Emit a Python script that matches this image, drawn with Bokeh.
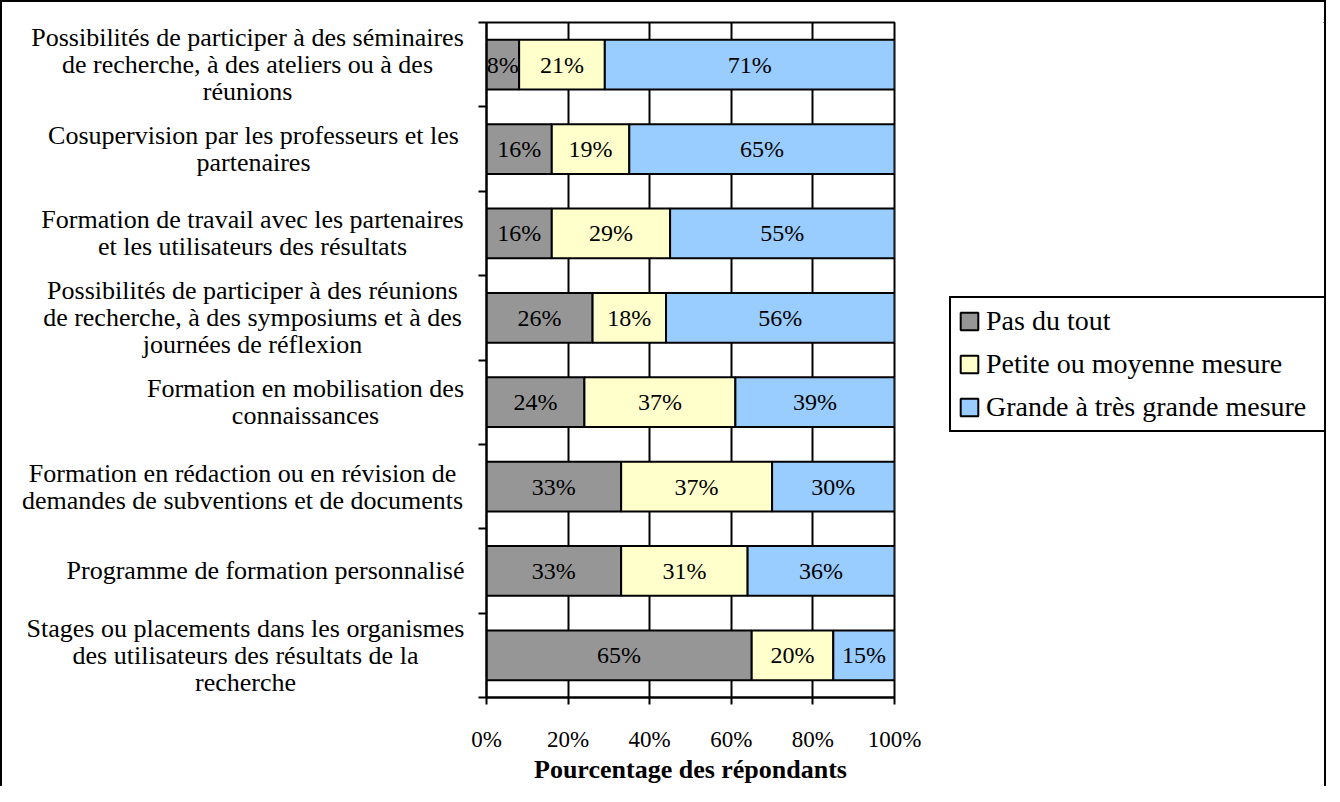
from bokeh.plotting import figure
from bokeh.layouts import row
from bokeh.models import (ColumnDataSource, Legend, LegendItem, FixedTicker,
                          PrintfTickFormatter, Range1d)
from bokeh.core.properties import value
from bokeh.embed import file_html
from bokeh.resources import INLINE

# ---------------- data ----------------
categories = [
    "Possibilités de participer à des séminaires\nde recherche, à des ateliers ou à des\nréunions",
    "Cosupervision par les professeurs et les\npartenaires",
    "Formation de travail avec les partenaires\net les utilisateurs des résultats",
    "Possibilités de participer à des réunions\nde recherche, à des symposiums et à des\njournées de réflexion",
    "Formation en mobilisation des\nconnaissances",
    "Formation en rédaction ou en révision de\ndemandes de subventions et de documents",
    "Programme de formation personnalisé",
    "Stages ou placements dans les organismes\ndes utilisateurs des résultats de la\nrecherche",
]
pas_du_tout = [8, 16, 16, 26, 24, 33, 33, 65]
petite_moyenne = [21, 19, 29, 18, 37, 37, 31, 20]
grande = [71, 65, 55, 56, 39, 30, 36, 15]
series_names = ["Pas du tout", "Petite ou moyenne mesure", "Grande à très grande mesure"]
series_colors = ["#969696", "#FFFFCC", "#99CCFF"]
x_ticks = [0, 20, 40, 60, 80, 100]
x_title = "Pourcentage des répondants"

# layout: horizontal centre (px) of each category label block in the label panel
label_centres = [245, 251, 250, 250, 303, 240, 263, 243]

FONT = value("Liberation Serif")
n = len(categories)
ys = [n - i - 0.5 for i in range(n)]

H = 784
TOP, BOTTOM = 20, 84
MAIN_L, FRAME_W, MAIN_R = 17, 408, 44
LEFT_W = 484 - MAIN_L
LEG_W = 1322 - LEFT_W - MAIN_L - FRAME_W - MAIN_R

y_range = Range1d(0, n)

# ---------- label panel ----------
lab = figure(width=LEFT_W, height=H, x_range=Range1d(0, LEFT_W), y_range=y_range,
             output_backend="svg", toolbar_location=None,
             x_axis_location=None, y_axis_location=None,
             min_border_left=0, min_border_right=0, min_border_top=TOP,
             min_border_bottom=BOTTOM)
lab.outline_line_color = None
lab.xgrid.visible = False
lab.ygrid.visible = False
lab.border_fill_color = "white"
lab.background_fill_color = "white"
lab.text(x=label_centres, y=ys, text=categories, text_align="center",
         text_baseline="middle", text_font=FONT, text_font_size="26px",
         text_line_height=0.93, text_color="black")

# ---------- main chart ----------
p = figure(width=MAIN_L + FRAME_W + MAIN_R, height=H, x_range=Range1d(0, 100), y_range=y_range,
           output_backend="svg", toolbar_location=None,
           min_border_left=MAIN_L, min_border_right=MAIN_R, min_border_top=TOP,
           min_border_bottom=BOTTOM)
p.background_fill_color = "white"
p.border_fill_color = "white"
p.outline_line_color = "black"
p.outline_line_width = 2

series = [pas_du_tout, petite_moyenne, grande]
lefts = [0] * n
txt_x, txt_y, txt = [], [], []
for vals, color in zip(series, series_colors):
    rights = [l + v for l, v in zip(lefts, vals)]
    src = ColumnDataSource(dict(y=ys, left=lefts, right=rights))
    p.hbar(y="y", left="left", right="right", height=0.59, source=src,
           fill_color=color, line_color="black", line_width=2)
    for l, v, y in zip(lefts, vals, ys):
        txt_x.append(l + v / 2)
        txt_y.append(y)
        txt.append(f"{v}%")
    lefts = rights

p.text(x=txt_x, y=txt_y, text=txt, text_align="center", text_baseline="middle",
       text_font=FONT, text_font_size="24px", text_color="black")

p.xaxis.ticker = FixedTicker(ticks=x_ticks)
p.xaxis.formatter = PrintfTickFormatter(format="%d%%")
p.xaxis.major_label_text_font = "Liberation Serif"
p.xaxis.major_label_text_font_size = "23px"
p.xaxis.major_label_text_color = "black"
p.xaxis.major_label_standoff = 22
p.xaxis.major_tick_in = 0
p.xaxis.major_tick_out = 7
p.xaxis.major_tick_line_width = 2
p.xaxis.major_tick_line_color = "black"
p.xaxis.minor_tick_line_color = None
p.xaxis.axis_line_color = "black"
p.xaxis.axis_line_width = 2
p.xaxis.axis_label = x_title
p.xaxis.axis_label_text_font = "Liberation Serif"
p.xaxis.axis_label_text_font_size = "26px"
p.xaxis.axis_label_text_font_style = "bold"
p.xaxis.axis_label_text_color = "black"
p.xaxis.axis_label_standoff = 0

p.yaxis.ticker = FixedTicker(ticks=list(range(n + 1)))
p.yaxis.major_label_overrides = {i: "" for i in range(n + 1)}
p.yaxis.major_label_text_color = None
p.yaxis.major_label_standoff = 0
p.yaxis.major_tick_in = 0
p.yaxis.major_tick_out = 8
p.yaxis.major_tick_line_width = 2
p.yaxis.major_tick_line_color = "black"
p.yaxis.minor_tick_line_color = None
p.yaxis.axis_line_color = "black"
p.yaxis.axis_line_width = 2

p.xgrid.ticker = FixedTicker(ticks=x_ticks)
p.xgrid.grid_line_color = "black"
p.xgrid.grid_line_width = 2
p.ygrid.grid_line_color = None

# ---------- legend panel ----------
leg = figure(width=LEG_W, height=H, x_range=Range1d(0, 1), y_range=Range1d(0, 1),
             output_backend="svg", toolbar_location=None,
             x_axis_location=None, y_axis_location=None,
             min_border_left=0, min_border_right=0, min_border_top=0, min_border_bottom=0)
leg.outline_line_color = None
leg.xgrid.visible = False
leg.ygrid.visible = False
leg.border_fill_color = "white"
leg.background_fill_color = "white"
leg_renderers = []
for color in series_colors:
    # swatch-only renderers placed outside the visible range of this panel
    swatch = ColumnDataSource(dict(y=[5], left=[5], right=[6]))
    leg_renderers.append(leg.hbar(y="y", left="left", right="right", height=0.5, source=swatch,
                                  fill_color=color, line_color="black", line_width=2))

legend = Legend(items=[LegendItem(label=nm, renderers=[r]) for nm, r in zip(series_names, leg_renderers)],
                location=(957 - 10 - (LEFT_W + MAIN_L + FRAME_W + MAIN_R), 265),
                orientation="vertical")
legend.label_text_font = "Liberation Serif"
legend.label_text_font_size = "28px"
legend.label_text_color = "black"
legend.glyph_width = 22
legend.glyph_height = 22
legend.label_standoff = 6
legend.label_width = 332
legend.padding = 7
legend.spacing = 11
legend.margin = 0
legend.border_line_color = "black"
legend.border_line_width = 2
legend.border_line_alpha = 1
legend.background_fill_color = "white"
legend.background_fill_alpha = 1
leg.add_layout(legend)

layout = row(lab, p, leg)
layout.styles = {"border-top": "2px solid black", "border-left": "2px solid black",
                 "border-right": "2px solid black", "box-sizing": "content-box"}

open("out.html", "w").write(file_html(layout, INLINE))
